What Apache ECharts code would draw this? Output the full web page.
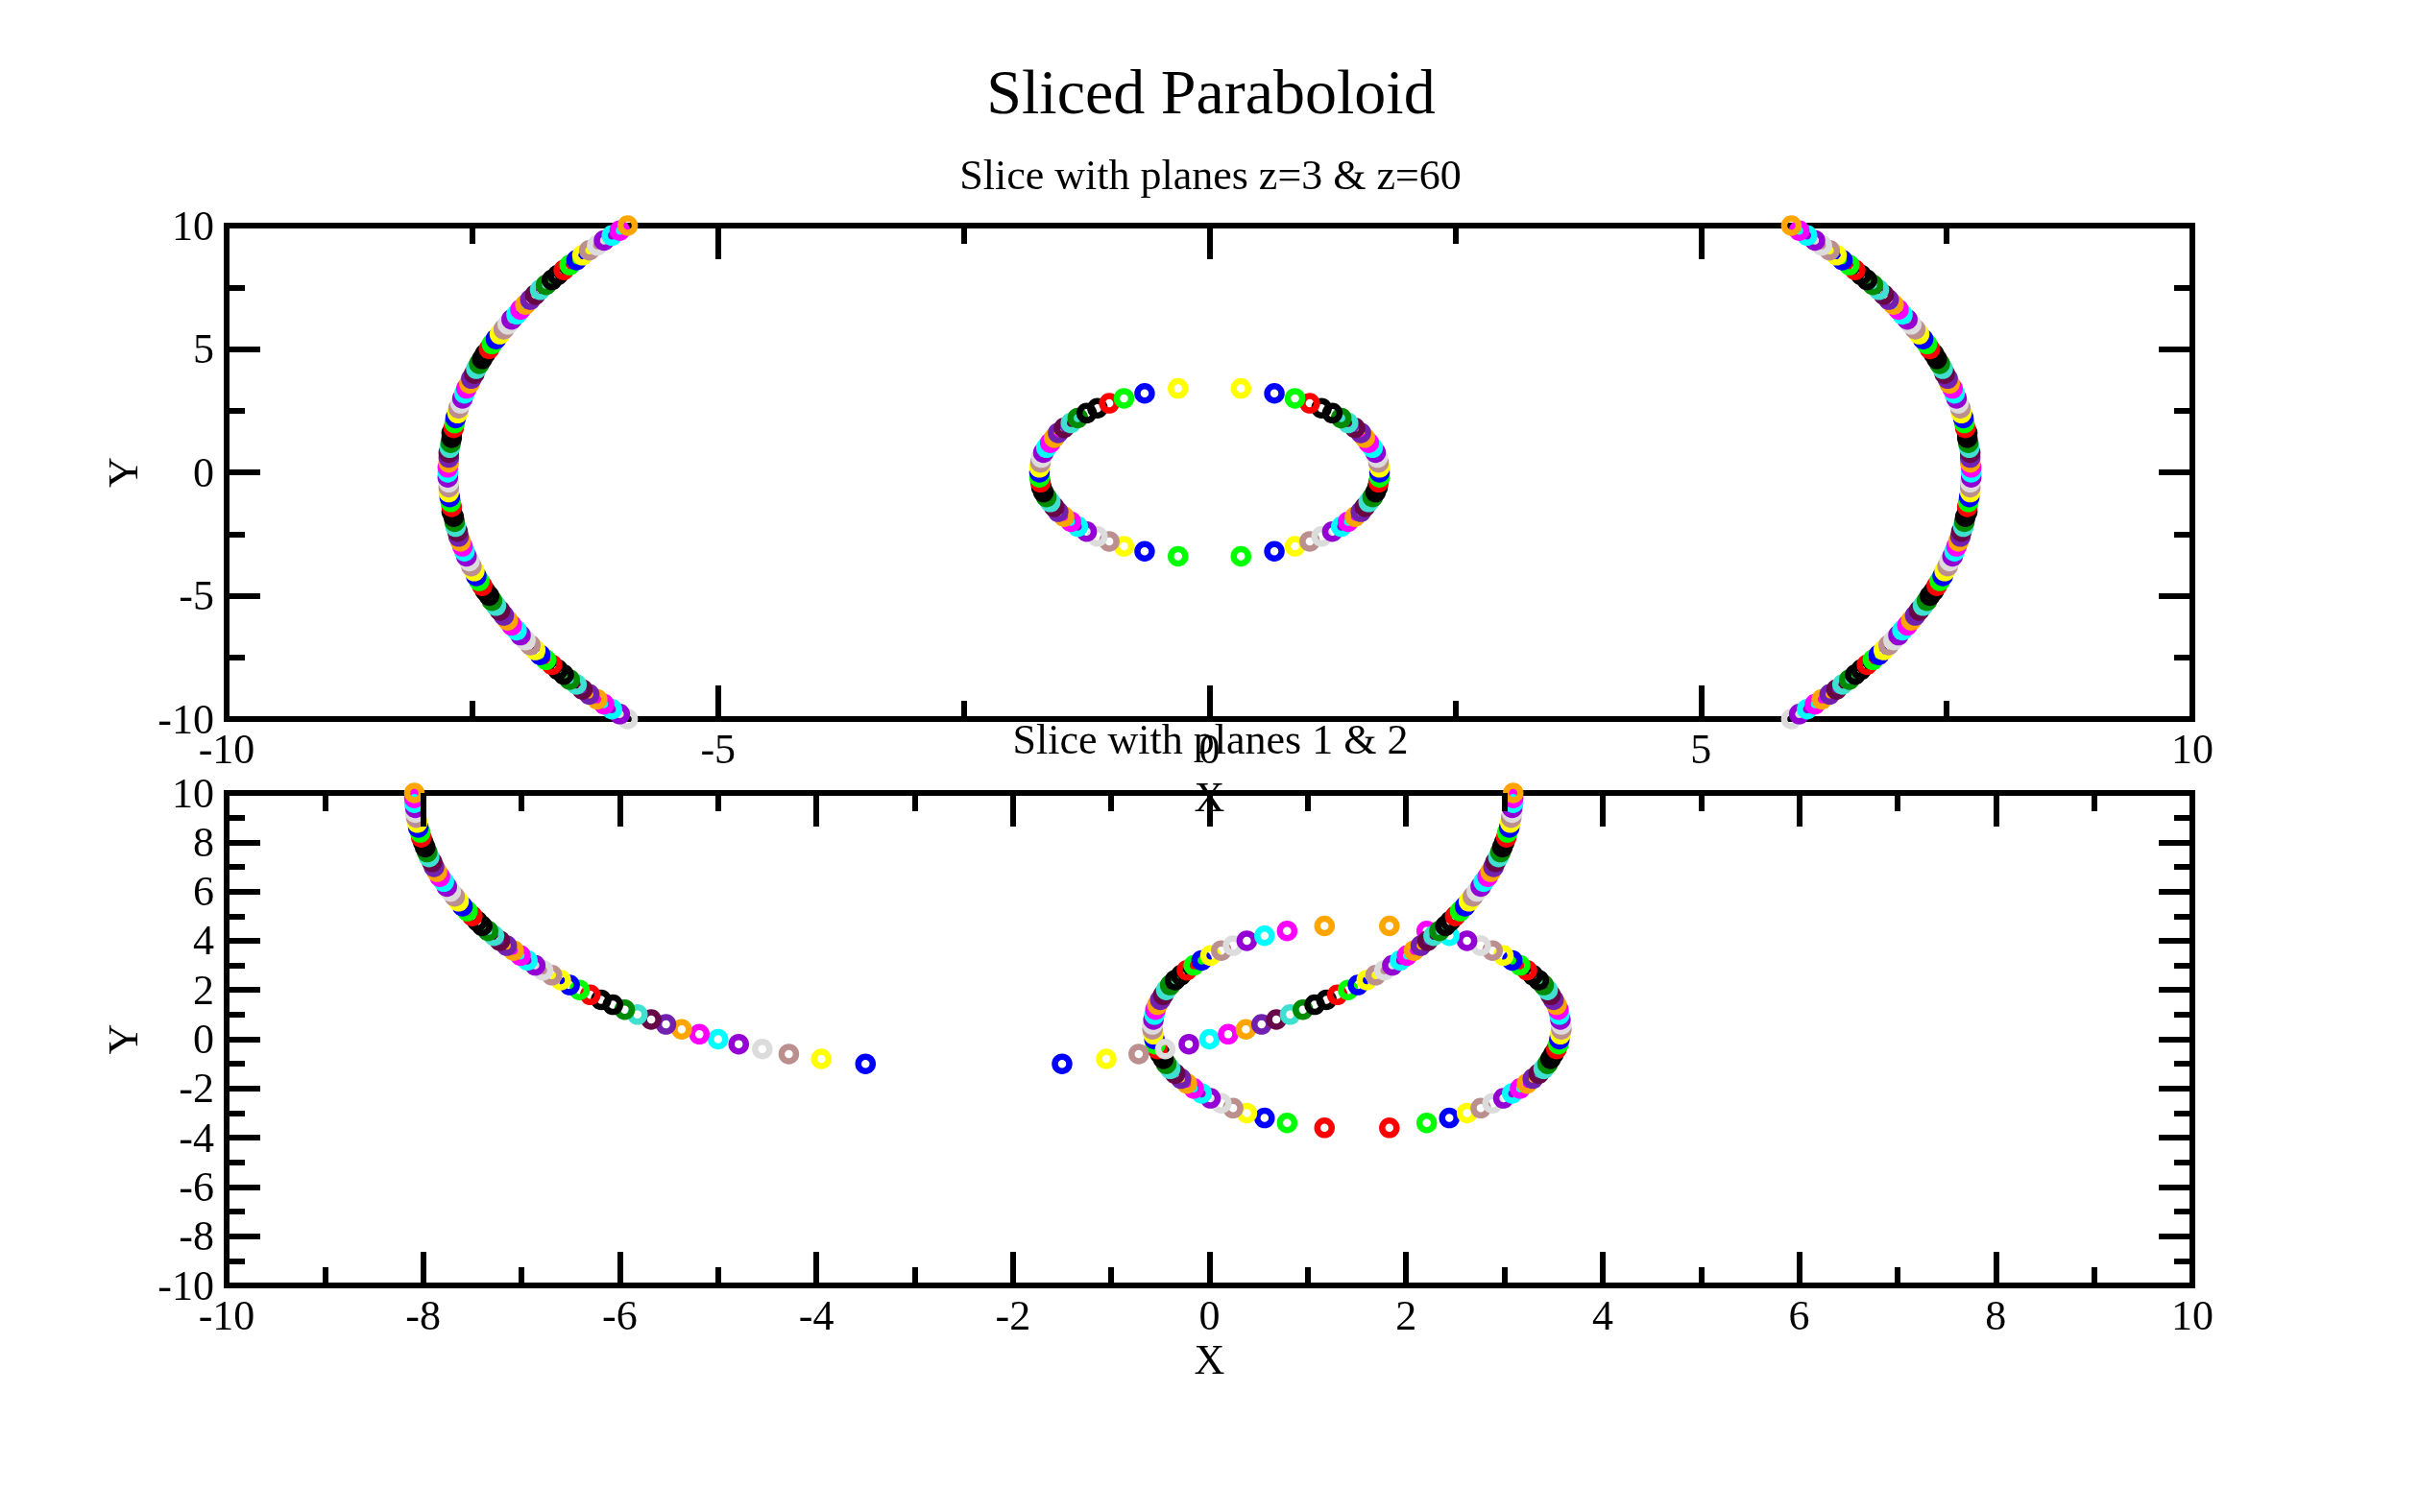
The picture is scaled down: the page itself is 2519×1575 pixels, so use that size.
<!DOCTYPE html>
<html>
<head>
<meta charset="utf-8">
<script src="https://cdn.jsdelivr.net/npm/echarts@6/dist/echarts.min.js"></script>
<style>html,body{margin:0;padding:0;background:#fff}#c{width:2519px;height:1575px}</style>
</head>
<body>
<div id="c"></div>
<script>
const outerY = [10,9.8,9.6,9.4,9.2,9,8.8,8.6,8.4,8.2,8,7.8,7.6,7.4,7.2,7,6.8,6.6,6.4,6.2,6,5.8,5.6,5.4,5.2,5,4.8,4.6,4.4,4.2,4,3.8,3.6,3.4,3.2,3,2.8,2.6,2.4,2.2,2,1.8,1.6,1.4,1.2,1,0.8,0.6,0.4,0.2,0,-0.2,-0.4,-0.6,-0.8,-1,-1.2,-1.4,-1.6,-1.8,-2,-2.2,-2.4,-2.6,-2.8,-3,-3.2,-3.4,-3.6,-3.8,-4,-4.2,-4.4,-4.6,-4.8,-5,-5.2,-5.4,-5.6,-5.8,-6,-6.2,-6.4,-6.6,-6.8,-7,-7.2,-7.4,-7.6,-7.8,-8,-8.2,-8.4,-8.6,-8.8,-9,-9.2,-9.4,-9.6,-9.8,-10];
const outerRightX = [5.92,6,6.08,6.16,6.23,6.31,6.38,6.44,6.51,6.57,6.63,6.69,6.75,6.81,6.86,6.91,6.96,7.01,7.05,7.1,7.14,7.18,7.22,7.26,7.3,7.33,7.37,7.4,7.43,7.46,7.48,7.51,7.53,7.56,7.58,7.6,7.62,7.64,7.65,7.67,7.68,7.69,7.71,7.71,7.72,7.73,7.74,7.74,7.74,7.75,7.75,7.75,7.74,7.74,7.74,7.73,7.72,7.71,7.71,7.69,7.68,7.67,7.65,7.64,7.62,7.6,7.58,7.56,7.53,7.51,7.48,7.46,7.43,7.4,7.37,7.33,7.3,7.26,7.22,7.18,7.14,7.1,7.05,7.01,6.96,6.91,6.86,6.81,6.75,6.69,6.63,6.57,6.51,6.44,6.38,6.31,6.23,6.16,6.08,6,5.92];
const outerLeftX = [-5.92,-6,-6.08,-6.16,-6.23,-6.31,-6.38,-6.44,-6.51,-6.57,-6.63,-6.69,-6.75,-6.81,-6.86,-6.91,-6.96,-7.01,-7.05,-7.1,-7.14,-7.18,-7.22,-7.26,-7.3,-7.33,-7.37,-7.4,-7.43,-7.46,-7.48,-7.51,-7.53,-7.56,-7.58,-7.6,-7.62,-7.64,-7.65,-7.67,-7.68,-7.69,-7.71,-7.71,-7.72,-7.73,-7.74,-7.74,-7.74,-7.75,-7.75,-7.75,-7.74,-7.74,-7.74,-7.73,-7.72,-7.71,-7.71,-7.69,-7.68,-7.67,-7.65,-7.64,-7.62,-7.6,-7.58,-7.56,-7.53,-7.51,-7.48,-7.46,-7.43,-7.4,-7.37,-7.33,-7.3,-7.26,-7.22,-7.18,-7.14,-7.1,-7.05,-7.01,-6.96,-6.91,-6.86,-6.81,-6.75,-6.69,-6.63,-6.57,-6.51,-6.44,-6.38,-6.31,-6.23,-6.16,-6.08,-6,-5.92];

const innerY = [3.4,3.2,3,2.8,2.6,2.4,2.2,2,1.8,1.6,1.4,1.2,1,0.8,0.6,0.4,0.2,0,-0.2,-0.4,-0.6,-0.8,-1,-1.2,-1.4,-1.6,-1.8,-2,-2.2,-2.4,-2.6,-2.8,-3,-3.2,-3.4];
const innerRightX = [0.32,0.66,0.87,1.02,1.14,1.25,1.34,1.41,1.48,1.54,1.58,1.62,1.66,1.69,1.71,1.72,1.73,1.73,1.73,1.72,1.71,1.69,1.66,1.62,1.58,1.54,1.48,1.41,1.34,1.25,1.14,1.02,0.87,0.66,0.32];
const innerLeftX = [-0.32,-0.66,-0.87,-1.02,-1.14,-1.25,-1.34,-1.41,-1.48,-1.54,-1.58,-1.62,-1.66,-1.69,-1.71,-1.72,-1.73,-1.73,-1.73,-1.72,-1.71,-1.69,-1.66,-1.62,-1.58,-1.54,-1.48,-1.41,-1.34,-1.25,-1.14,-1.02,-0.87,-0.66,-0.32];

const bigY = [10,9.8,9.6,9.4,9.2,9,8.8,8.6,8.4,8.2,8,7.8,7.6,7.4,7.2,7,6.8,6.6,6.4,6.2,6,5.8,5.6,5.4,5.2,5,4.8,4.6,4.4,4.2,4,3.8,3.6,3.4,3.2,3,2.8,2.6,2.4,2.2,2,1.8,1.6,1.4,1.2,1,0.8,0.6,0.4,0.2,0,-0.2,-0.4,-0.6,-0.8,-1];
const bigLeftX = [-8.09,-8.09,-8.09,-8.08,-8.08,-8.07,-8.06,-8.05,-8.03,-8.02,-8,-7.98,-7.96,-7.94,-7.91,-7.89,-7.86,-7.83,-7.79,-7.76,-7.72,-7.68,-7.64,-7.6,-7.55,-7.5,-7.45,-7.4,-7.34,-7.28,-7.22,-7.15,-7.08,-7.01,-6.94,-6.86,-6.78,-6.69,-6.6,-6.51,-6.41,-6.3,-6.19,-6.07,-5.95,-5.82,-5.68,-5.53,-5.37,-5.19,-5,-4.79,-4.55,-4.28,-3.95,-3.5];
const bigRightX = [3.09,3.09,3.09,3.08,3.08,3.07,3.06,3.05,3.03,3.02,3,2.98,2.96,2.94,2.91,2.89,2.86,2.83,2.79,2.76,2.72,2.68,2.64,2.6,2.55,2.5,2.45,2.4,2.34,2.28,2.22,2.15,2.08,2.01,1.94,1.86,1.78,1.69,1.6,1.51,1.41,1.3,1.19,1.07,0.95,0.82,0.68,0.53,0.37,0.19,0,-0.21,-0.45,-0.72,-1.05,-1.5];

const smallY = [4.6,4.4,4.2,4,3.8,3.6,3.4,3.2,3,2.8,2.6,2.4,2.2,2,1.8,1.6,1.4,1.2,1,0.8,0.6,0.4,0.2,0,-0.2,-0.4,-0.6,-0.8,-1,-1.2,-1.4,-1.6,-1.8,-2,-2.2,-2.4,-2.6,-2.8,-3,-3.2,-3.4,-3.6];
const smallLeftX = [1.17,0.79,0.56,0.38,0.24,0.12,0.01,-0.08,-0.16,-0.23,-0.29,-0.35,-0.4,-0.44,-0.47,-0.5,-0.53,-0.55,-0.56,-0.57,-0.58,-0.58,-0.57,-0.56,-0.55,-0.53,-0.5,-0.47,-0.44,-0.4,-0.35,-0.29,-0.23,-0.16,-0.08,0.01,0.12,0.24,0.38,0.56,0.79,1.17];
const smallRightX = [1.83,2.21,2.44,2.62,2.76,2.88,2.99,3.08,3.16,3.23,3.29,3.35,3.4,3.44,3.47,3.5,3.53,3.55,3.56,3.57,3.58,3.58,3.57,3.56,3.55,3.53,3.5,3.47,3.44,3.4,3.35,3.29,3.23,3.16,3.08,2.99,2.88,2.76,2.62,2.44,2.21,1.83];

const palette = ['#ffff00','#0000ff','#00ff00','#ff0000','#000000','#000000','#008b00','#40e0d0','#670748','#7220b0','#ffa500','#ff00ff','#00ffff','#9400d3','#dcdcdc','#bc8f8f'];
const FONT = 'Liberation Serif';

function ring(xs, ys, start, gridIdx) {
  const data = xs.map((x, i) => ({
    value: [x, ys[i]],
    itemStyle: { color: 'rgba(0,0,0,0)', borderColor: palette[(start + i) % palette.length], borderWidth: 6.5, opacity: 1 }
  })).reverse();
  return {
    type: 'scatter', xAxisIndex: gridIdx * 2, yAxisIndex: gridIdx * 2, data,
    symbol: 'circle', symbolSize: 15, clip: false, z: 2, silent: true, animation: false,
    itemStyle: { opacity: 1 },
    emphasis: { disabled: true }, large: false, progressive: 0
  };
}
function xAx(gridIndex, position, major, labeled, name, gap) {
  return {
    type: 'value', gridIndex, position, min: -10, max: 10, interval: major, z: 5,
    name: labeled ? name : '', nameLocation: 'middle', nameGap: gap,
    nameTextStyle: { fontFamily: FONT, fontSize: 44, color: '#000' },
    axisLine: { show: false, onZero: false }, splitLine: { show: false },
    axisTick: { show: true, inside: true, length: 35, lineStyle: { color: '#000', width: 6 } },
    minorTick: { show: true, splitNumber: 2, length: 19, lineStyle: { color: '#000', width: 6 } },
    axisLabel: { show: labeled, fontFamily: FONT, fontSize: 44, color: '#000', margin: 12 }
  };
}
function yAx(gridIndex, position, major, labeled) {
  return {
    type: 'value', gridIndex, position, min: -10, max: 10, interval: major, z: 5,
    name: labeled ? 'Y' : '', nameLocation: 'middle', nameGap: 77, nameRotate: 90,
    nameTextStyle: { fontFamily: FONT, fontSize: 44, color: '#000' },
    axisLine: { show: false, onZero: false }, splitLine: { show: false },
    axisTick: { show: true, inside: true, length: 35, lineStyle: { color: '#000', width: 6 } },
    minorTick: { show: true, splitNumber: 2, length: 19, lineStyle: { color: '#000', width: 6 } },
    axisLabel: { show: labeled, fontFamily: FONT, fontSize: 44, color: '#000', margin: 13, verticalAlign: 'top', lineHeight: 6 }
  };
}
const frame = { show: true, left: 236, width: 2047, borderColor: '#000', borderWidth: 6, backgroundColor: 'transparent' };

const chart = echarts.init(document.getElementById('c'), null, { renderer: 'canvas' });
chart.setOption({
  animation: false,
  backgroundColor: '#fff',
  title: [
    { text: 'Sliced Paraboloid', left: 1256, top: 63, textAlign: 'center', textStyle: { fontFamily: FONT, fontSize: 66, fontWeight: 'normal', color: '#000' } },
    { text: 'Slice with planes z=3 & z=60', left: 1255.5, top: 158, textAlign: 'center', textStyle: { fontFamily: FONT, fontSize: 44, fontWeight: 'normal', color: '#000' } },
    { text: 'Slice with planes 1 & 2', left: 1255.5, top: 746, textAlign: 'center', textStyle: { fontFamily: FONT, fontSize: 44, fontWeight: 'normal', color: '#000' } }
  ],
  grid: [
    Object.assign({ top: 235, height: 514 }, frame),
    Object.assign({ top: 826, height: 513 }, frame)
  ],
  xAxis: [
    xAx(0, 'bottom', 5, true, 'X', 62), xAx(0, 'top', 5, false),
    xAx(1, 'bottom', 2, true, 'X', 58), xAx(1, 'top', 2, false)
  ],
  yAxis: [
    yAx(0, 'left', 5, true), yAx(0, 'right', 5, false),
    yAx(1, 'left', 2, true), yAx(1, 'right', 2, false)
  ],
  series: [
    ring(outerLeftX, outerY, 10, 0),
    ring(outerRightX, outerY, 10, 0),
    ring(innerLeftX, innerY, 0, 0),
    ring(innerRightX, innerY, 0, 0),
    ring(smallLeftX, smallY, 10, 1),
    ring(smallRightX, smallY, 10, 1),
    ring(bigLeftX, bigY, 10, 1),
    ring(bigRightX, bigY, 10, 1)
  ]
});
</script>
</body>
</html>
